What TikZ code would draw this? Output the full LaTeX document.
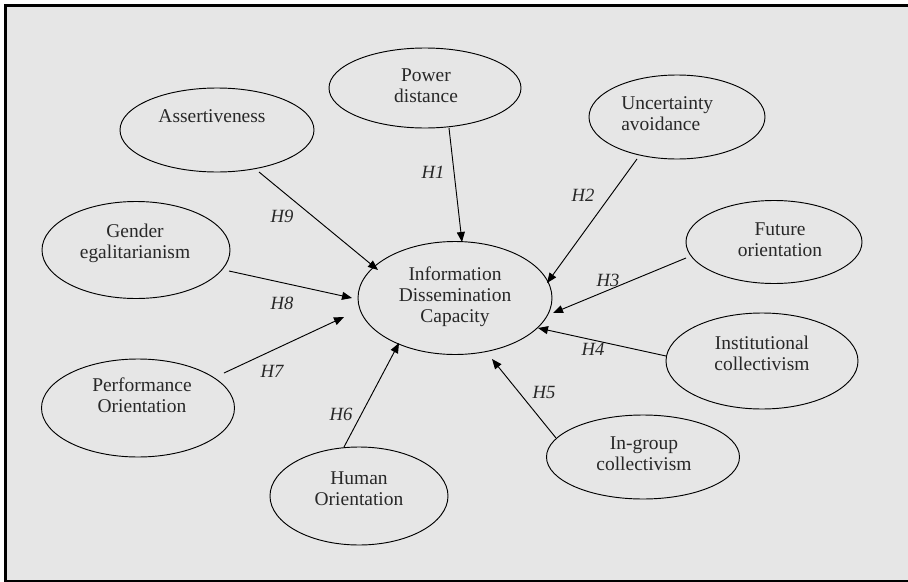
\documentclass[tikz,border=0pt]{standalone}
\usepackage{fontspec}
\setmainfont{Liberation Serif}
\usetikzlibrary{shapes.geometric,arrows.meta}
\definecolor{bggray}{RGB}{230,230,230}
\definecolor{txtgray}{RGB}{40,40,40}
\begin{document}
\begin{tikzpicture}[x=0.75pt,y=-0.75pt,
  ell/.style={ellipse,draw=black,line width=0.7pt,inner sep=0pt},
  lbl/.style={font=\fontsize{14.6}{15.75}\selectfont,text=txtgray,align=center,inner sep=0pt},
  hyp/.style={font=\fontsize{14}{16}\selectfont\itshape,text=txtgray,inner sep=0pt},
  arr/.style={line width=0.7pt,-{Triangle[length=7.5pt,width=6pt]}}]
\useasboundingbox (0,0) rectangle (908,582);
\fill[white] (0,0) rectangle (908,582);
\fill[bggray] (5.5,5.5) rectangle (908,582);
\draw[line width=2.25pt] (5.5,582) -- (5.5,5.5) -- (908,5.5);
\draw[line width=1.2pt] (5.5,581) -- (908,581);

% ellipses
\node[ell,minimum width=192*0.75pt,minimum height=80*0.75pt] (pd) at (425,88) {};
\node[ell,minimum width=194*0.75pt,minimum height=84*0.75pt] (as) at (217,130) {};
\node[ell,minimum width=176*0.75pt,minimum height=84*0.75pt] (ua) at (677,117) {};
\node[ell,minimum width=188*0.75pt,minimum height=97*0.75pt] (ge) at (136,250) {};
\node[ell,minimum width=194*0.75pt,minimum height=113*0.75pt] (idc) at (455,298) {};
\node[ell,minimum width=176*0.75pt,minimum height=83*0.75pt] (fo) at (774,242) {};
\node[ell,minimum width=192*0.75pt,minimum height=96*0.75pt] (ic) at (762,361) {};
\node[ell,minimum width=193*0.75pt,minimum height=84*0.75pt] (igc) at (643,457) {};
\node[ell,minimum width=178*0.75pt,minimum height=98*0.75pt] (ho) at (359,496) {};
\node[ell,minimum width=193*0.75pt,minimum height=98*0.75pt] (po) at (138,408) {};

% texts
\node[lbl] (tpd) at (426,86) {Power\\distance};
\node[lbl] (tas) at (212,116) {Assertiveness};
\node[lbl,align=left,anchor=west] (tua) at (621,114) {Uncertainty\\avoidance};
\node[lbl] (tge) at (135,243) {Gender\\egalitarianism};
\node[lbl] (tidc) at (455,297) {Information\\Dissemination\\Capacity};
\node[lbl] (tfo) at (780,240) {Future\\orientation};
\node[lbl] (tic) at (762,353) {Institutional\\collectivism};
\node[lbl] (tigc) at (644,454) {In-group\\collectivism};
\node[lbl] (tho) at (359,489) {Human\\Orientation};
\node[lbl] (tpo) at (142,395) {Performance\\Orientation};

% connectors
\draw[arr] ([shift={(24,40)}]pd.center) -- ([shift={(7,-56)}]idc.center);
\draw[arr] ([shift={(-40,42)}]ua.center) -- ([shift={(92,-15)}]idc.center);
\draw[arr] ([shift={(-88,16)}]fo.center) -- ([shift={(98,15)}]idc.center);
\draw[arr] ([shift={(-96,-5)}]ic.center) -- ([shift={(83,30)}]idc.center);
\draw[arr] ([shift={(-87,-19)}]igc.center) -- ([shift={(37,61)}]idc.center);
\draw[arr] ([shift={(-15,-49)}]ho.center) -- ([shift={(-56,45)}]idc.center);
\draw[arr] ([shift={(86,-35)}]po.center) -- ([shift={(-111,19)}]idc.center);
\draw[arr] ([shift={(93,21)}]ge.center) -- ([shift={(-103,0)}]idc.center);
\draw[arr] ([shift={(42,42)}]as.center) -- ([shift={(-77,-28)}]idc.center);

% hypothesis labels
\node[hyp] (h1) at (433,172) {H1};
\node[hyp] (h2) at (583,195) {H2};
\node[hyp] (h3) at (608,280) {H3};
\node[hyp] (h4) at (593,349) {H4};
\node[hyp] (h5) at (544,392) {H5};
\node[hyp] (h6) at (341,414) {H6};
\node[hyp] (h7) at (272,371) {H7};
\node[hyp] (h8) at (282,303) {H8};
\node[hyp] (h9) at (282,216) {H9};
\end{tikzpicture}
\end{document}
